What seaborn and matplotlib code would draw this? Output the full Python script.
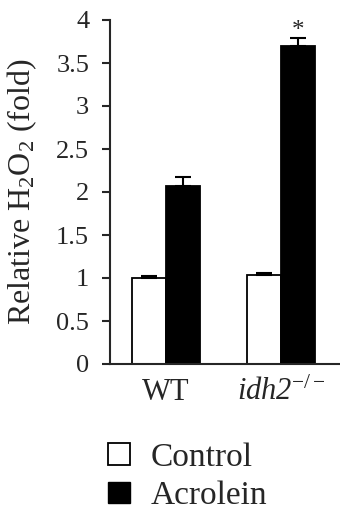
import numpy as np
import pandas as pd
import matplotlib
matplotlib.use("Agg")
import matplotlib.pyplot as plt
import seaborn as sns
from matplotlib.patches import Patch

# data
groups = ["WT", "idh2"]
treatments = ["Control", "Acrolein"]
values = [1.00, 2.07, 1.03, 3.70]
errors = [0.02, 0.10, 0.025, 0.09]
group_col = ["WT", "WT", "idh2", "idh2"]
treat_col = ["Control", "Acrolein", "Control", "Acrolein"]
tick_labels = ["WT", r"idh2$^{-/-}$"]
yticks = [0, 0.5, 1, 1.5, 2, 2.5, 3, 3.5, 4]

df = pd.DataFrame({"group": group_col, "treatment": treat_col,
                   "value": values, "err": errors})

sns.set_style("ticks")
plt.rcParams["font.family"] = ["Liberation Serif", "DejaVu Serif"]
plt.rcParams["mathtext.fontset"] = "custom"
plt.rcParams["mathtext.rm"] = "Liberation Serif"
plt.rcParams["mathtext.it"] = "Liberation Serif:italic"

fig = plt.figure(figsize=(3.4, 5.18), dpi=100)
ax = fig.add_axes([110/340, 1-364/518, 230/340, (364-20)/518])

sns.barplot(data=df, x="group", y="value", hue="treatment", order=groups,
            hue_order=treatments, palette={"Control": "white", "Acrolein": "black"},
            edgecolor="black", linewidth=1.3, width=0.59, errorbar=None,
            legend=False, ax=ax)

# error bars (upper only), placed on the bars seaborn drew
ordered = df.set_index(["treatment", "group"]).loc[
    [(t, g) for t in treatments for g in groups]].reset_index()
for bar, (_, row) in zip(ax.patches, ordered.iterrows()):
    cx = bar.get_x() + bar.get_width() / 2
    ax.errorbar(cx, row["value"], yerr=[[0], [row["err"]]], fmt="none",
                ecolor="black", elinewidth=1.5, capsize=5.5, capthick=1.5)
    if row["group"] == "idh2" and row["treatment"] == "Acrolein":
        ax.text(cx, row["value"] + row["err"] + 0.01, "*", ha="center",
                va="baseline", fontsize=18)

ax.set_ylim(0, 4)
ax.set_xlim(-0.487, 1.513)
ax.set_yticks(yticks)
ax.set_yticklabels([f"{v:g}" for v in yticks])
ax.set_xticks([0, 1])
ax.set_xticklabels(tick_labels)
ax.get_xticklabels()[1].set_fontstyle("italic")
ax.tick_params(axis="y", labelsize=19, length=6, width=1.5, direction="out", pad=9)
ax.tick_params(axis="x", labelsize=22, length=0, pad=10)
ax.set_xlabel("")
ax.set_ylabel(r"Relative H$_2$O$_2$ (fold)", fontsize=23, labelpad=12)
for s in ["left", "bottom"]:
    ax.spines[s].set_linewidth(1.5)
sns.despine(ax=ax)

handles = [Patch(facecolor="white", edgecolor="black", linewidth=1.3),
           Patch(facecolor="black", edgecolor="black")]
fig.legend(handles, treatments, loc="upper left", bbox_to_anchor=(108/340, 1-442/518),
           frameon=False, fontsize=24, handlelength=0.67, handleheight=0.62,
           handletextpad=0.6, labelspacing=0.25, borderpad=0, borderaxespad=0)

fig.savefig("out.png", dpi=100)
